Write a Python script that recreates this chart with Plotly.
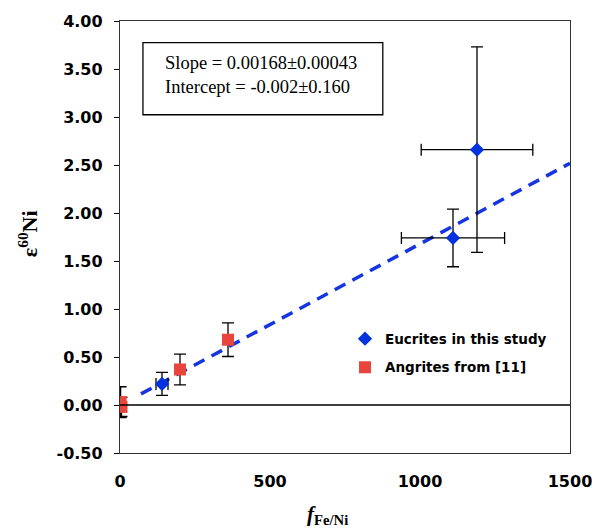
import plotly.graph_objects as go

# Eucrites in this study
euc_x = [1190, 1110, 140]
euc_y = [2.66, 1.74, 0.22]
euc_yerr = [1.07, 0.30, 0.12]
euc_xerr = [186, 172, 20]

# Angrites from [11]
ang_x = [2, 5, 200, 360]
ang_y = [0.03, -0.02, 0.37, 0.68]
ang_yerr = [0.16, 0.10, 0.16, 0.175]

# Fit line
slope = 0.00168
intercept = -0.002
fit_x = [70, 1500]
fit_y = [slope * x + intercept for x in fit_x]

x_ticks = [0, 500, 1000, 1500]
y_ticks = [-0.5, 0, 0.5, 1.0, 1.5, 2.0, 2.5, 3.0, 3.5, 4.0]

fig = go.Figure()
fig.add_trace(go.Scatter(x=fit_x, y=fit_y, mode="lines",
                         line=dict(color="#1535e0", width=3.5, dash="12px,8px"),
                         showlegend=False, hoverinfo="skip"))
fig.add_trace(go.Scatter(
    x=euc_x, y=euc_y, mode="markers", name="Eucrites in this study", legendgroup="e",
    marker=dict(symbol="diamond", size=11, color="#0033dd"),
    error_y=dict(type="data", array=euc_yerr, color="black", thickness=1.3, width=6),
    error_x=dict(type="data", array=euc_xerr, color="black", thickness=1.3, width=6),
))
fig.add_trace(go.Scatter(
    x=ang_x, y=ang_y, mode="markers", name="Angrites from [11]", legendgroup="a",
    marker=dict(symbol="square", size=12, color="#e8453c"),
    error_y=dict(type="data", array=ang_yerr, color="black", thickness=1.3, width=6),
))

fig.add_shape(type="line", xref="paper", yref="y", x0=0, x1=1, y0=0, y1=0,
              line=dict(color="black", width=1.3))
fig.add_shape(type="rect", xref="paper", yref="paper", x0=0.051, x1=0.584, y0=0.783, y1=0.950,
              line=dict(color="black", width=1.3), fillcolor="white", layer="below")
fig.add_annotation(xref="paper", yref="paper", x=0.0956, y=0.902, xanchor="left", yanchor="middle",
                   text="Slope = 0.00168±0.00043", showarrow=False,
                   font=dict(family="Liberation Serif", size=18.5, color="black"))
fig.add_annotation(xref="paper", yref="paper", x=0.0956, y=0.847, xanchor="left", yanchor="middle",
                   text="Intercept = -0.002±0.160", showarrow=False,
                   font=dict(family="Liberation Serif", size=18.5, color="black"))

fig.add_annotation(xref="paper", yref="paper", x=-0.204, y=0.507, xanchor="center", yanchor="middle",
                   text="<b>ε<sup>60</sup>Ni</b>", textangle=-90, showarrow=False,
                   font=dict(family="Liberation Serif", size=22, color="black"))
fig.add_annotation(xref="paper", yref="paper", x=0.462, y=-0.143, xanchor="center", yanchor="middle",
                   text="<b><i>f</i></b><sub><b>Fe/Ni</b></sub>", showarrow=False,
                   font=dict(family="Liberation Serif", size=21, color="black"))

tickfont = dict(family="DejaVu Sans", size=16, color="black", weight="bold")
fig.update_xaxes(range=[0, 1500], tickvals=x_ticks, ticktext=[str(v) for v in x_ticks],
                 showgrid=False, zeroline=False, showline=True, mirror=True,
                 linecolor="#333", linewidth=1.3, ticks="", tickfont=tickfont, ticklabelstandoff=14)
fig.update_yaxes(range=[-0.5, 4.0], tickvals=y_ticks, ticktext=[f"{v:.2f}" for v in y_ticks],
                 showgrid=False, zeroline=False, showline=True, mirror=True,
                 linecolor="#333", linewidth=1.3, ticks="outside", ticklen=5, tickcolor="black",
                 tickfont=tickfont, ticklabelstandoff=8)
fig.update_layout(
    width=600, height=531, template="none",
    plot_bgcolor="white", paper_bgcolor="white",
    margin=dict(l=112, r=38, t=13, b=86, autoexpand=False),
    legend=dict(x=0.50, y=0.30, xanchor="left", yanchor="top",
                font=dict(family="DejaVu Sans", size=13.5, color="black", weight="bold"),
                bgcolor="rgba(0,0,0,0)", traceorder="grouped", tracegroupgap=8, itemwidth=30),
)
fig.write_html("out.html")
